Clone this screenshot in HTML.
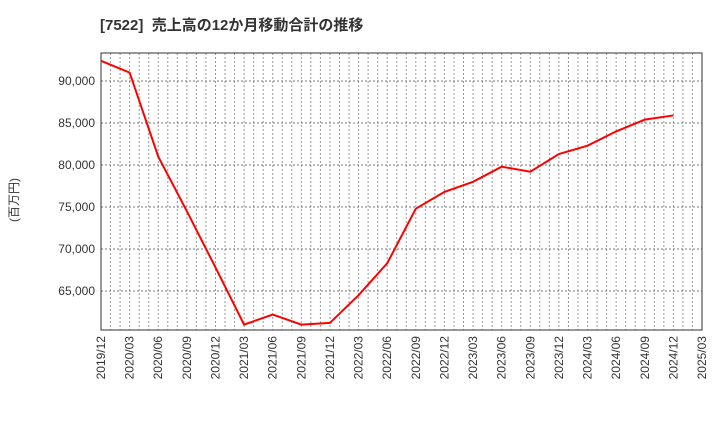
<!DOCTYPE html>
<html><head><meta charset="utf-8"><style>
body{margin:0;background:#fff;font-family:"Liberation Sans","Noto Sans CJK JP",sans-serif;}
</style></head><body>
<svg width="720" height="440" xmlns="http://www.w3.org/2000/svg">
<text x="100" y="30" font-size="15" font-weight="bold" fill="#333" font-family="Liberation Sans, Noto Sans CJK JP, sans-serif">[7522]&#160;&#160;売上高の12か月移動合計の推移</text>
<text transform="translate(18,200) rotate(-90)" text-anchor="middle" font-size="12" fill="#333" font-family="Liberation Sans, Noto Sans CJK JP, sans-serif">(百万円)</text>
<g id="grid"></g><g id="axes"></g>
<rect x="101" y="53" width="601" height="277" fill="none" stroke="#333" stroke-width="1"/>
<polyline id="line" fill="none" stroke="#f00" stroke-width="2"/>
</svg>
<script>
const xLabels=["2019/12","2020/03","2020/06","2020/09","2020/12","2021/03","2021/06","2021/09","2021/12","2022/03","2022/06","2022/09","2022/12","2023/03","2023/06","2023/09","2023/12","2024/03","2024/06","2024/09","2024/12","2025/03"];
const values=[92400,91000,81000,74500,67800,61000,62200,61000,61200,64500,68300,74800,76800,78000,79800,79200,81300,82300,84000,85400,85900];
const yTicks=[65000,70000,75000,80000,85000,90000];
const L=101,R=702,T=53,B=330;
const X=i=>L+(R-L)*i/(xLabels.length-1);
const Y=v=>291-(v-65000)*42/5000;
const ns="http://www.w3.org/2000/svg";
const grid=document.getElementById('grid'),axes=document.getElementById('axes');
for(let m=1;m<(xLabels.length-1)*3;m++){
 const x=L+(R-L)*m/((xLabels.length-1)*3);
 const l=document.createElementNS(ns,'line');
 l.setAttribute('x1',x);l.setAttribute('x2',x);l.setAttribute('y1',T);l.setAttribute('y2',B);
 l.setAttribute('stroke','#999');l.setAttribute('stroke-dasharray','2,2');
 
 
 grid.appendChild(l);
}
yTicks.forEach(v=>{
 const y=Y(v);
 const l=document.createElementNS(ns,'line');
 l.setAttribute('x1',L);l.setAttribute('x2',R);l.setAttribute('y1',y);l.setAttribute('y2',y);
 l.setAttribute('stroke','#777');l.setAttribute('stroke-dasharray','2,2');
 
 
 grid.appendChild(l);
 const t=document.createElementNS(ns,'text');
 t.setAttribute('x',L-6);t.setAttribute('y',y+4);t.setAttribute('text-anchor','end');
 t.setAttribute('font-size','12');t.setAttribute('fill','#333');
 t.textContent=v.toLocaleString('en-US');
 
 
 axes.appendChild(t);
});
xLabels.forEach((s,i)=>{
 const x=X(i);
 const t=document.createElementNS(ns,'text');
 t.setAttribute('transform',`translate(${x+4},${B+6}) rotate(-90)`);
 t.setAttribute('text-anchor','end');t.setAttribute('font-size','12');t.setAttribute('fill','#333');
 t.textContent=s;
 
 
 axes.appendChild(t);
});
document.getElementById('line').setAttribute('points',values.map((v,i)=>X(i)+','+Y(v)).join(' '));
</script>
</body></html>
